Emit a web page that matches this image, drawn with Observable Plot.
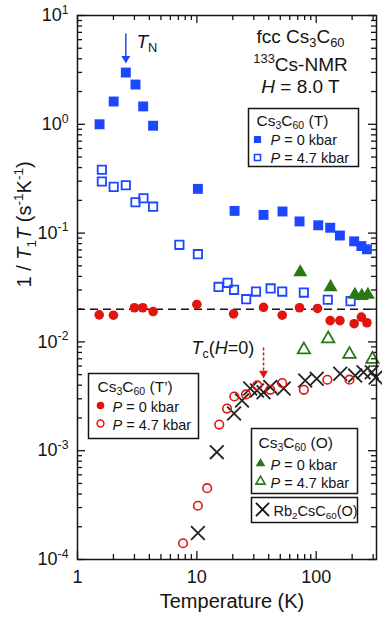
<!DOCTYPE html>
<html><head><meta charset="utf-8">
<script src="https://cdn.jsdelivr.net/npm/d3@7"></script>
<script src="https://cdn.jsdelivr.net/npm/@observablehq/plot@0.6"></script>
<style>html,body{margin:0;padding:0;background:#fff}svg{display:block}</style>
</head><body><div id="chart"></div>
<script>
// ---- data (temperature K, 1/T1T in s^-1 K^-1) ----
const cs3T_P0_T = [1.53, 2.01, 2.54, 3.06, 3.55, 4.3, 10.2, 20.7, 36.2, 52.2, 72.5, 104, 131, 158, 208, 239, 266];
const cs3T_P0_v = [1.0, 1.62, 2.99, 2.32, 1.46, 0.97, 0.255, 0.16, 0.147, 0.158, 0.128, 0.118, 0.112, 0.095, 0.084, 0.076, 0.071];
const cs3T_P47_T = [1.6, 1.6, 2.01, 2.54, 3.06, 3.57, 4.3, 7.14, 10.2, 15.2, 18.1, 20.5, 25.9, 31.3, 41.5, 51.9, 78.8, 125, 194];
const cs3T_P47_v = [0.382, 0.298, 0.266, 0.275, 0.192, 0.209, 0.175, 0.078, 0.064, 0.032, 0.0349, 0.0301, 0.0247, 0.029, 0.031, 0.029, 0.0284, 0.0244, 0.0237];
const cs3Tp_P0_T = [1.52, 2.0, 3.0, 3.52, 4.3, 10, 20.3, 36.2, 51.9, 72.5, 102.6, 131, 158, 208, 239, 266];
const cs3Tp_P0_v = [0.0177, 0.0176, 0.0206, 0.0206, 0.019, 0.0221, 0.0181, 0.0208, 0.0176, 0.0206, 0.0203, 0.0157, 0.0157, 0.0147, 0.0169, 0.015];
const cs3Tp_P47_T = [7.66, 10.2, 12.2, 15.4, 17.9, 20.6, 25.8, 32.1, 41.2, 51.9, 78.8, 124, 190];
const cs3Tp_P47_v = [1.41e-4, 3.12e-4, 4.52e-4, 1.74e-3, 2.44e-3, 3.15e-3, 3.29e-3, 3.98e-3, 3.63e-3, 4.18e-3, 3.63e-3, 4.49e-3, 4.5e-3];
const cs3O_P0_T = [73.5, 132, 211, 241, 271];
const cs3O_P0_v = [0.0437, 0.0319, 0.0271, 0.0265, 0.0271];
const cs3O_P47_T = [78.8, 126, 190, 296];
const cs3O_P47_v = [0.00846, 0.0107, 0.0077, 0.00693];
const rb_T = [10.2, 14.7, 20.5, 23.9, 28.0, 31.9, 36.2, 41.2, 53.4, 80.9, 101, 159, 212, 249, 292, 315];
const rb_v = [1.75e-4, 9.7e-4, 2.2e-3, 2.89e-3, 3.73e-3, 3.58e-3, 3.45e-3, 3.86e-3, 3.73e-3, 4.42e-3, 4.58e-3, 5.09e-3, 4.9e-3, 5.27e-3, 5.27e-3, 4.7e-3];
const dashLevel = [0.02];
// annotation arrows (data space)
const TN = 2.54, TN_from = 6.84, TN_to = 4.03;
const Tc = 36.2, Tc_from = 8.88e-3, Tc_to = 5.13e-3;
// ticks
const xMajor = [1, 10, 100];
const xMinor = [2, 3, 4, 5, 6, 7, 8, 9, 20, 30, 40, 50, 60, 70, 80, 90, 200, 300];
const yMajor = [1e-4, 1e-3, 1e-2, 1e-1, 1, 10];
const yMinor = [];
for (const d of [1e-4, 1e-3, 1e-2, 1e-1, 1]) for (let k = 2; k <= 9; k++) yMinor.push(+(d * k).toPrecision(3));

const pts = (T, v) => T.map((t, i) => ({T: t, v: v[i]}));

// ---- layout ----
const W = 382, H = 618, mL = 77, mR = 6, mT = 15, mB = 59;
const fw = W - mL - mR, fh = H - mT - mB;
const font = '"Liberation Sans", Arial, Helvetica, sans-serif';
const blue = "#1d46ff", red = "#e0150f", green = "#2a7717", ink = "#141414";

const note = (s, x, y, o = {}) => Plot.text([s], {frameAnchor: "top-left", dx: x - mL, dy: y - mT, text: d => d, textAnchor: "start", lineAnchor: "bottom", fill: ink, ...o});
const sym = (x, y, o) => Plot.dot([0], {frameAnchor: "top-left", dx: x - mL, dy: y - mT, ...o});
const box = (l, t, r, b) => Plot.frame({insetLeft: l - mL, insetTop: t - mT, insetRight: W - mR - r, insetBottom: H - mB - b, stroke: ink, strokeWidth: 1.5, fill: "white"});

const tickStyle = {stroke: ink, strokeWidth: 1.3};

const plot = Plot.plot({
  width: W, height: H,
  marginLeft: mL, marginRight: mR, marginTop: mT, marginBottom: mB,
  x: {type: "log", domain: [1, 320]},
  y: {type: "log", domain: [1e-4, 10]},
  style: {fontFamily: font, fontSize: "18px", color: ink, background: "#fff"},
  marks: [
    // ticks (inward, all sides)
    Plot.tickX(xMajor, {x: d => d, insetTop: fh - 8, ...tickStyle}),
    Plot.tickX(xMinor, {x: d => d, insetTop: fh - 5, ...tickStyle}),
    Plot.tickX(xMajor, {x: d => d, insetBottom: fh - 8, ...tickStyle}),
    Plot.tickX(xMinor, {x: d => d, insetBottom: fh - 5, ...tickStyle}),
    Plot.tickY(yMajor, {y: d => d, insetRight: fw - 8, ...tickStyle}),
    Plot.tickY(yMinor, {y: d => d, insetRight: fw - 5, ...tickStyle}),
    Plot.tickY(yMajor, {y: d => d, insetLeft: fw - 8, ...tickStyle}),
    Plot.tickY(yMinor, {y: d => d, insetLeft: fw - 5, ...tickStyle}),
    Plot.axisX({ticks: xMajor, tickSize: 0, tickPadding: 11, tickFormat: d => String(d), label: null, fontSize: 18}),
    Plot.axisY({ticks: yMajor, tickSize: 0, tickPadding: 9, tickFormat: d => `10^{${Math.round(Math.log10(d))}}`, label: null, fontSize: 18}),
    // dashed reference line
    Plot.ruleY(dashLevel, {y: d => d, stroke: ink, strokeWidth: 1.5, strokeDasharray: "8,5"}),
    // data
    Plot.dot(pts(cs3T_P0_T, cs3T_P0_v), {x: "T", y: "v", symbol: "square", r: 5.6, fill: blue}),
    Plot.dot(pts(cs3T_P47_T, cs3T_P47_v), {x: "T", y: "v", symbol: "square", r: 4.7, fill: "none", stroke: blue, strokeWidth: 1.8}),
    Plot.dot(pts(cs3Tp_P0_T, cs3Tp_P0_v), {x: "T", y: "v", r: 4.8, fill: red}),
    Plot.dot(pts(cs3O_P0_T, cs3O_P0_v), {x: "T", y: "v", symbol: "triangle", r: 5.2, fill: green}),
    Plot.dot(pts(cs3O_P47_T, cs3O_P47_v), {x: "T", y: "v", symbol: "triangle", r: 4.6, fill: "none", stroke: green, strokeWidth: 1.8}),
    Plot.dot(pts(rb_T, rb_v), {x: "T", y: "v", symbol: "times", r: 6.3, stroke: "#222", strokeWidth: 1.8}),
    Plot.dot(pts(cs3Tp_P47_T, cs3Tp_P47_v), {x: "T", y: "v", r: 4.3, fill: "none", stroke: red, strokeWidth: 1.6}),
    // T_N arrow
    Plot.link([0], {x1: TN, x2: TN, y1: TN_from, y2: TN_to, stroke: blue, strokeWidth: 1.5}),
    Plot.dot([0], {x: TN, y: TN_to, symbol: "triangle", rotate: 180, r: 3.3, fill: blue}),
    // Tc arrow
    Plot.link([0], {x1: Tc, x2: Tc, y1: Tc_from, y2: Tc_to, stroke: red, strokeWidth: 1.5, strokeDasharray: "3,2"}),
    Plot.dot([0], {x: Tc, y: Tc_to, symbol: "triangle", rotate: 180, r: 3.3, fill: red}),
    // annotations
    note("*T*_{N}", 136, 47, {fontSize: 19, fill: ink}),
    note("fcc Cs_{3}C_{60}", 300, 42, {fontSize: 19, textAnchor: "middle"}),
    note("^{133}Cs-NMR", 300, 70, {fontSize: 19, textAnchor: "middle"}),
    note("*H* = 8.0 T", 300, 92, {fontSize: 19, textAnchor: "middle"}),
    note("*T*_{c}(*H*=0)", 191, 353, {fontSize: 18}),
    // legend (T)
    box(248, 108, 358, 166),
    note("Cs_{3}C_{60} (T)", 256, 125, {fontSize: 15.5}),
    sym(257, 139, {symbol: "square", r: 4, fill: blue}),
    note("*P* = 0 kbar", 270, 144, {fontSize: 14.5}),
    sym(257, 157, {symbol: "square", r: 3.4, fill: "none", stroke: blue, strokeWidth: 1.6}),
    note("*P* = 4.7 kbar", 270, 162, {fontSize: 14.5}),
    // legend (T')
    box(88, 373, 198, 438),
    note("Cs_{3}C_{60} (T’)", 97, 391, {fontSize: 15.5}),
    sym(100, 405, {r: 3.8, fill: red}),
    note("*P* = 0 kbar", 112, 411, {fontSize: 14.5}),
    sym(100, 423, {r: 3.4, fill: "none", stroke: red, strokeWidth: 1.5}),
    note("*P* = 4.7 kbar", 112, 429, {fontSize: 14.5}),
    // legend (O)
    box(251, 428, 357, 493),
    note("Cs_{3}C_{60} (O)", 258, 447, {fontSize: 15.5}),
    sym(260, 463, {symbol: "triangle", r: 3.6, fill: green}),
    note("*P* = 0 kbar", 270, 469, {fontSize: 14.5}),
    sym(260, 481, {symbol: "triangle", r: 3.4, fill: "none", stroke: green, strokeWidth: 1.6}),
    note("*P* = 4.7 kbar", 270, 487, {fontSize: 14.5}),
    // legend Rb2CsC60
    box(251, 497, 357, 522),
    sym(262, 509, {symbol: "times", r: 6, stroke: ink, strokeWidth: 1.8}),
    note("Rb_{2}CsC_{60}(O)", 273, 515, {fontSize: 14.5}),
    // axis labels
    Plot.text(["Temperature (K)"], {frameAnchor: "bottom", dx: 5, dy: 48, lineAnchor: "bottom", text: d => d, fontSize: 20, fill: ink}),
    Plot.text(["1 / *T*_{1}*T* (s^{-1}K^{-1})"], {frameAnchor: "left", dx: -53, rotate: -90, text: d => d, fontSize: 20, fill: ink}),
    Plot.frame({stroke: ink, strokeWidth: 1.5})
  ]
});

function richify(el) {
  const s = el.textContent;
  if (!/[_^*]/.test(s)) return;
  const tokens = s.split(/(_\{[^}]*\}|\^\{[^}]*\}|\*)/).filter(t => t !== "");
  while (el.firstChild) el.removeChild(el.firstChild);
  let italic = false, offset = 0;
  for (const t of tokens) {
    if (t === "*") { italic = !italic; continue; }
    let txt = t, target = 0, scale = 1;
    if (t.startsWith("_{")) { txt = t.slice(2, -1); target = 0.25; scale = 0.68; }
    else if (t.startsWith("^{")) { txt = t.slice(2, -1); target = -0.42; scale = 0.68; }
    const ts = document.createElementNS("http://www.w3.org/2000/svg", "tspan");
    const delta = target - offset;
    if (delta !== 0) ts.setAttribute("dy", (delta / scale).toFixed(3) + "em");
    if (scale !== 1) ts.setAttribute("font-size", (scale * 100) + "%");
    if (italic && scale === 1) ts.setAttribute("font-style", "italic");
    ts.textContent = txt;
    el.appendChild(ts);
    offset = target;
  }
}
d3.select(plot).selectAll("text").each(function () { richify(this); });
document.getElementById("chart").appendChild(plot);
</script>
</body></html>
